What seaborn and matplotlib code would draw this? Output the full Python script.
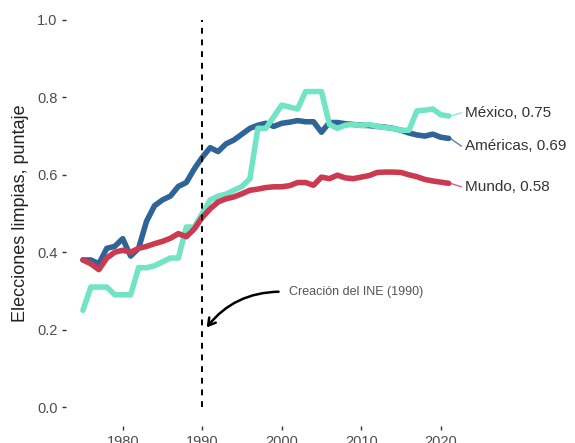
import pandas as pd
import matplotlib
matplotlib.use("Agg")
import matplotlib.pyplot as plt
import seaborn as sns

# -------------------------------
# Data
# -------------------------------
years = list(range(1975, 2022))

americas = [0.38, 0.38, 0.37, 0.41, 0.415, 0.435, 0.39, 0.41, 0.48, 0.52,
            0.535, 0.545, 0.57, 0.58, 0.615, 0.645, 0.67, 0.66, 0.68, 0.69,
            0.705, 0.72, 0.728, 0.733, 0.725, 0.733, 0.736, 0.74, 0.737, 0.737,
            0.71, 0.735, 0.735, 0.732, 0.73, 0.728, 0.727, 0.725, 0.723, 0.72,
            0.715, 0.708, 0.703, 0.70, 0.705, 0.697, 0.694]

mexico = [0.25, 0.31, 0.31, 0.31, 0.29, 0.29, 0.29, 0.36, 0.36, 0.365,
          0.375, 0.385, 0.385, 0.465, 0.465, 0.50, 0.535, 0.545, 0.55, 0.56,
          0.57, 0.59, 0.72, 0.72, 0.75, 0.78, 0.775, 0.77, 0.815, 0.815,
          0.815, 0.73, 0.72, 0.728, 0.73, 0.727, 0.73, 0.725, 0.722, 0.72,
          0.715, 0.715, 0.765, 0.767, 0.77, 0.755, 0.752]

mundo = [0.38, 0.37, 0.355, 0.385, 0.40, 0.405, 0.40, 0.41, 0.415, 0.422,
         0.428, 0.436, 0.448, 0.44, 0.46, 0.49, 0.512, 0.53, 0.538, 0.543,
         0.551, 0.56, 0.563, 0.567, 0.569, 0.569, 0.572, 0.58, 0.58, 0.573,
         0.594, 0.59, 0.599, 0.592, 0.59, 0.594, 0.598, 0.606, 0.607, 0.607,
         0.606, 0.60, 0.595, 0.588, 0.584, 0.581, 0.578]

series_names = ["Américas", "México", "Mundo"]
series_colors = ["#2E6496", "#72E4C6", "#CB3A50"]
end_labels = ["Américas, 0.69", "México, 0.75", "Mundo, 0.58"]
label_y = [0.674, 0.760, 0.569]

df = pd.DataFrame({
    "year": years * 3,
    "value": americas + mexico + mundo,
    "region": ["Américas"] * len(years) + ["México"] * len(years) + ["Mundo"] * len(years),
})

# -------------------------------
# Plot
# -------------------------------
sns.set_style("white")
plt.rcParams["font.family"] = ["Liberation Sans", "DejaVu Sans"]

fig = plt.figure(figsize=(5.75, 4.43), dpi=100)
ax = fig.add_axes([66 / 575, 16.6 / 443, 494 / 575, 425.8 / 443])

sns.lineplot(data=df, x="year", y="value", hue="region", hue_order=series_names,
             palette=series_colors, linewidth=4, legend=False, ax=ax)

# vertical marker at 1990
ax.vlines(1990, 0, 1, colors="black", linestyles=(0, (3, 3)), linewidth=1.4)

# end-of-line labels with thin connectors
for name, color, lab, ly in zip(series_names, series_colors, end_labels, label_y):
    last = df[df["region"] == name]["value"].iloc[-1]
    ax.plot([2021.2, 2022.6], [last, ly], color=color, linewidth=1, alpha=0.8)
    ax.text(2023.0, ly, lab, fontsize=11, color="#333333", ha="left", va="center")

# annotation
ax.annotate("", xy=(1990.35, 0.20), xytext=(1999.95, 0.298),
            arrowprops=dict(arrowstyle="->,head_length=0.5,head_width=0.3",
                            connectionstyle="arc3,rad=0.25", color="black", lw=1.8))
ax.text(2000.9, 0.298, "Creación del INE (1990)", fontsize=9, color="#555555",
        ha="left", va="center")

ax.set_xlim(1972.87, 2035.0)
ax.set_ylim(-0.05, 1.05)
ax.set_xticks([1980, 1990, 2000, 2010, 2020])
ax.set_yticks([0.0, 0.2, 0.4, 0.6, 0.8, 1.0])
ax.set_yticklabels(["0.0", "0.2", "0.4", "0.6", "0.8", "1.0"])
ax.set_xlabel("")
ax.set_ylabel("Elecciones limpias, puntaje", fontsize=13, color="#222222", labelpad=6)
ax.tick_params(axis="both", direction="out", length=3, width=1, color="#333333",
               labelsize=10.5, labelcolor="#4d4d4d", pad=3)
ax.tick_params(axis="both", which="both", bottom=True, left=True)
for s in ax.spines.values():
    s.set_visible(False)

fig.savefig("out.png", dpi=100)
